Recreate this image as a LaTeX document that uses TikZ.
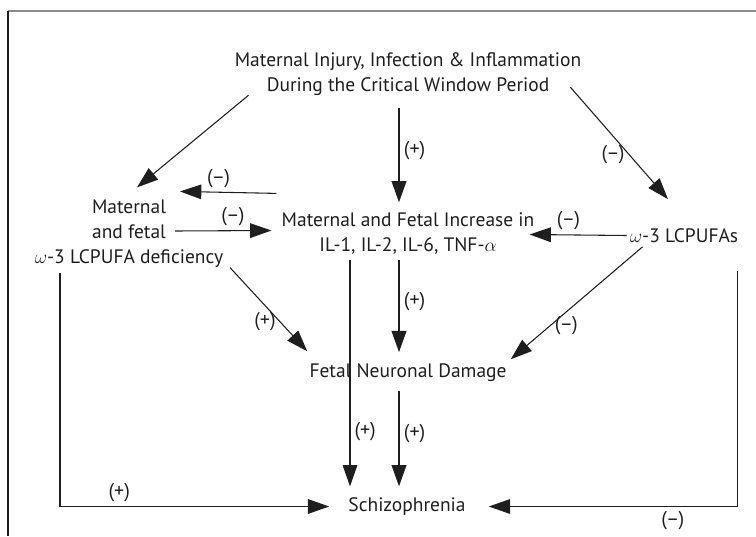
\documentclass[tikz,border=0pt]{standalone}
\usepackage{fontspec}
\setmainfont{PT Sans}
\usepackage{xcolor}
\definecolor{pathInk}{RGB}{30, 30, 30}
\definecolor{pathFrame}{RGB}{140, 140, 140}
\usepackage{tikz}
\usetikzlibrary{
    arrows.meta,
    positioning,
    calc
}

\begin{document}
\begin{tikzpicture}[
    x=0.75pt, y=-0.75pt,
    pathNode/.style={
        text=pathInk,
        font=\fontsize{14.6}{18.75}\selectfont,
        align=center, inner sep=0pt
    },
    pathArrow/.style={
        -{Triangle[length=16pt, width=11pt]}, line width=0.8pt, draw=pathInk
    },
    pathArrowThick/.style={
        pathArrow, line width=1.4pt
    },
    pathLabel/.style={
        font=\fontsize{15}{16}\selectfont, text=pathInk, inner sep=3pt
    }
]
    \useasboundingbox (0,0) rectangle (756,536);

    % Frame (cut off at right and bottom)
    \draw[pathFrame, line width=0.9pt] (8,11) -- (756,11);
    \draw[pathInk, line width=0.8pt] (8,11) -- (8,536);

    % Nodes
    \node[pathNode] (insult) at (408,74.5) {Maternal Injury, Infection \& Inflammation\\During the Critical Window Period};
    \node[pathNode] (deficiency) at (129,233.5) {Maternal\\and fetal\\$\omega$-3 LCPUFA deficiency};
    \node[pathNode] (cytokines) at (408,233.5) {Maternal and Fetal Increase in\\IL-1, IL-2, IL-6, TNF-$\alpha$};
    \node[pathNode] (lcpufa) at (684,235.5) {$\omega$-3 LCPUFAs};
    \node[pathNode] (damage) at (408,372.5) {Fetal Neuronal Damage};
    \node[pathNode] (schizo) at (407,506.5) {Schizophrenia};

    % From the insult
    \draw[pathArrow] ([shift={(14,-1)}]insult.south west) -- ([shift={(8,-12)}]deficiency.north);
    \draw[pathArrowThick] ([shift={(-9,12)}]insult.south) -- node[pathLabel, right, pos=0.45] {(+)} ([shift={(-9,-10)}]cytokines.north);
    \draw[pathArrow] ([shift={(-11,-9)}]insult.south east) -- node[pathLabel, left, pos=0.6] {(--)} ([shift={(-16,-29)}]lcpufa.north);

    % Between deficiency, cytokines and LCPUFAs
    \draw[pathArrow] ([shift={(-5,-19)}]cytokines.north west) -- node[pathLabel, above, pos=0.6] {(--)} ([shift={(51,-8)}]deficiency.north);
    \draw[pathArrow] ([shift={(46,-2.5)}]deficiency.center) -- node[pathLabel, above, pos=0.6] {(--)} ([shift={(-10,-3)}]cytokines.west);
    \draw[pathArrow] ([shift={(-3,0)}]lcpufa.west) -- node[pathLabel, above, pos=0.6] {(--)} ([shift={(-5,1)}]cytokines.east);

    % Towards neuronal damage
    \draw[pathArrowThick] ([shift={(-9,5)}]cytokines.south) -- node[pathLabel, right, pos=0.45] {(+)} ([shift={(-9,-11)}]damage.north);
    \draw[pathArrow] ([shift={(101,0)}]deficiency.south) -- node[pathLabel, left, pos=0.65] {(+)} ([shift={(-2,-12)}]damage.north west);
    \draw[pathArrow] ([shift={(13,4)}]lcpufa.south west) -- node[pathLabel, right, pos=0.7] {(--)} ([shift={(4,-4)}]damage.north east);

    % Towards schizophrenia
    \draw[pathArrow] ([shift={(-58,5)}]cytokines.south) -- node[pathLabel, right, pos=0.76] {(+)} ([shift={(-57,-11)}]schizo.north);
    \draw[pathArrowThick] ([shift={(-9,9)}]damage.south) -- node[pathLabel, right, pos=0.45] {(+)} ([shift={(-8,-11)}]schizo.north);
    \draw[pathArrow] ([shift={(-69,5)}]deficiency.south) |- node[pathLabel, above, pos=0.61] {(+)} ([shift={(-19,0)}]schizo.west);
    \draw[pathArrow] ([shift={(-1,28)}]lcpufa.south east) |- node[pathLabel, below, pos=0.63] {(--)} ([shift={(23,0)}]schizo.east);

\end{tikzpicture}
\end{document}
